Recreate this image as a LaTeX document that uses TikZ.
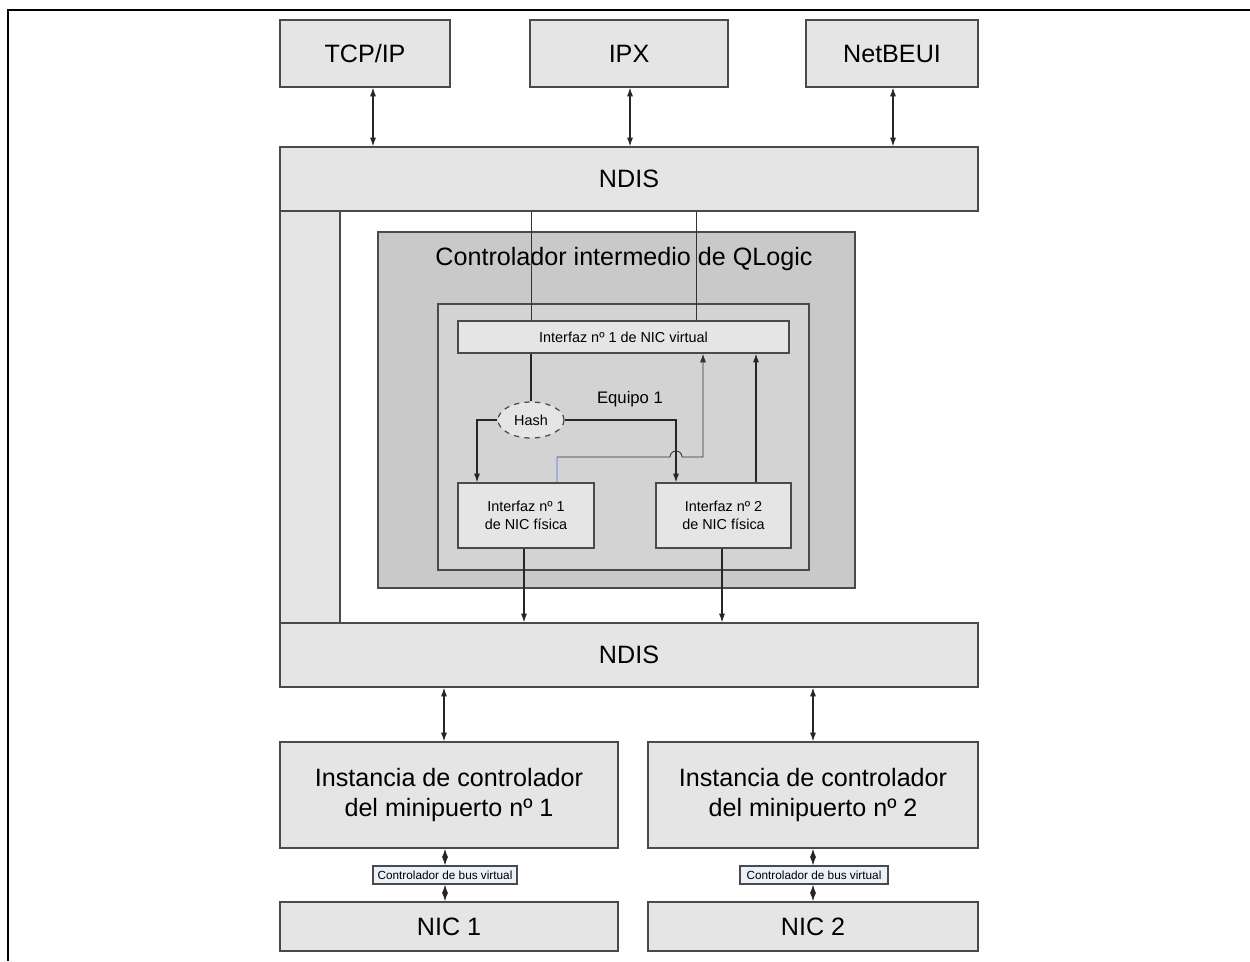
\documentclass[tikz,border=0pt]{standalone}
\usepackage{fontspec}
\setmainfont{Liberation Sans}
\usetikzlibrary{arrows.meta,shapes.geometric}
\definecolor{boxfill}{HTML}{E5E5E5}
\definecolor{boxline}{HTML}{4A4A4A}
\definecolor{ctrlfill}{HTML}{C9C9C9}
\definecolor{teamfill}{HTML}{D3D3D3}
\definecolor{busfill}{HTML}{EBF1FA}
\definecolor{hopblue}{HTML}{9DB3D6}
\tikzset{
  gbox/.style={draw=boxline, fill=boxfill, line width=0.8pt, rectangle, inner sep=0pt, align=center},
  bigtxt/.style={font=\fontsize{14.3}{17}\selectfont},
  smalltxt/.style={font=\fontsize{8.2}{10.5}\selectfont},
  bustxt/.style={font=\fontsize{6.7}{8}\selectfont},
  conn/.style={draw=black!85, line width=0.6pt},
  thinconn/.style={draw=black!80, line width=0.5pt},
  tip/.style={-{Latex[length=5pt,width=3.5pt]}},
  dtip/.style={{Latex[length=5pt,width=3.5pt]}-{Latex[length=5pt,width=3.5pt]}},
}
\begin{document}
\begin{tikzpicture}[x=0.02cm, y=-0.02cm]
\useasboundingbox (0,0) rectangle (1250,961);
% outer frame
\draw[line width=1.7pt] (1250,10) -- (8,10) -- (8,961);

% top protocols
\node[gbox, bigtxt, minimum width=3.4cm, minimum height=1.34cm] (tcp) at (365,53.5) {TCP/IP};
\node[gbox, bigtxt, minimum width=3.96cm, minimum height=1.34cm] (ipx) at (629,53.5) {IPX};
\node[gbox, bigtxt, minimum width=3.44cm, minimum height=1.34cm] (netb) at (892,53.5) {NetBEUI};

% left strip
\node[gbox, minimum width=1.2cm, minimum height=8.24cm] (strip) at (310,417) {};

% NDIS layers
\node[gbox, bigtxt, minimum width=13.96cm, minimum height=1.28cm] (ndisA) at (629,179) {NDIS};
\node[gbox, bigtxt, minimum width=13.96cm, minimum height=1.28cm] (ndisB) at (629,655) {NDIS};

% intermediate driver
\node[draw=boxline, fill=ctrlfill, line width=0.8pt, inner sep=0pt, minimum width=9.54cm, minimum height=7.12cm] (ctrl) at (616.5,410) {};
\node[bigtxt, inner sep=0pt] (ctrltitle) at (624,259) {Controlador intermedio de QLogic};
\node[draw=boxline, fill=teamfill, line width=0.8pt, inner sep=0pt, minimum width=7.42cm, minimum height=5.32cm] (team) at (623.5,437) {};

\node[gbox, smalltxt, minimum width=6.62cm, minimum height=0.64cm] (vnic) at (623.5,337) {Interfaz nº 1 de NIC virtual};
\node[font=\fontsize{9.5}{11}\selectfont, inner sep=0pt] (equipo) at (630,399) {Equipo 1};
\node[ellipse, draw=boxline, dashed, fill=boxfill, line width=0.7pt, smalltxt, inner sep=0pt, minimum width=1.32cm, minimum height=0.72cm] (hash) at (531,420) {Hash};

\node[gbox, smalltxt, minimum width=2.72cm, minimum height=1.3cm] (phys1) at (526,515.5) {Interfaz nº 1\\de NIC física};
\node[gbox, smalltxt, minimum width=2.7cm, minimum height=1.3cm] (phys2) at (723.5,515.5) {Interfaz nº 2\\de NIC física};

% miniport instances
\node[gbox, bigtxt, minimum width=6.76cm, minimum height=2.12cm] (inst1) at (449,795) {Instancia de controlador\\del minipuerto nº 1};
\node[gbox, bigtxt, minimum width=6.6cm, minimum height=2.12cm] (inst2) at (813,795) {Instancia de controlador\\del minipuerto nº 2};

\node[draw=boxline, fill=busfill, line width=0.6pt, inner sep=0pt, bustxt, minimum width=2.88cm, minimum height=0.36cm] (bus1) at (445,875) {Controlador de bus virtual};
\node[draw=boxline, fill=busfill, line width=0.6pt, inner sep=0pt, bustxt, minimum width=2.96cm, minimum height=0.36cm] (bus2) at (814,875) {Controlador de bus virtual};

\node[gbox, bigtxt, minimum width=6.76cm, minimum height=0.98cm] (nic1) at (449,926.5) {NIC 1};
\node[gbox, bigtxt, minimum width=6.6cm, minimum height=0.98cm] (nic2) at (813,926.5) {NIC 2};

% protocol <-> NDIS
\draw[conn, dtip] (tcp.south -| 373,0) -- (ndisA.north -| 373,0);
\draw[conn, dtip] (ipx.south -| 630,0) -- (ndisA.north -| 630,0);
\draw[conn, dtip] (netb.south -| 893,0) -- (ndisA.north -| 893,0);

% NDIS -> virtual NIC
\draw[thinconn] (ndisA.south -| 531,0) -- (vnic.north -| 531,0);
\draw[thinconn] (ndisA.south -| 696,0) -- (vnic.north -| 696,0);

% virtual NIC -> hash
\draw[conn] (vnic.south -| hash.north) -- (hash.north);

% hash -> physical
\draw[conn, tip] (hash.west) -| (phys1.north -| 477,0);
\draw[conn, tip] (hash.east) -| (phys2.north -| 676,0);

% physical -> virtual NIC
\coordinate (p1up) at (557,457);
\draw[hopblue, line width=0.6pt] (phys1.north -| p1up) -- (p1up);
\draw[thinconn, tip] (p1up) -- (670,457) arc[start angle=180, end angle=0, radius=0.12cm] -- (703,457) -- (vnic.south -| 703,0);
\draw[conn, tip] (phys2.north -| 756,0) -- (vnic.south -| 756,0);

% physical -> NDIS
\draw[conn, tip] (phys1.south -| 524,0) -- (ndisB.north -| 524,0);
\draw[conn, tip] (phys2.south -| 722,0) -- (ndisB.north -| 722,0);

% NDIS <-> instances
\draw[conn, dtip] (ndisB.south -| 444,0) -- (inst1.north -| 444,0);
\draw[conn, dtip] (ndisB.south -| 813,0) -- (inst2.north -| 813,0);

% instances <-> bus <-> NIC
\draw[conn, dtip] (inst1.south -| 445,0) -- (bus1.north -| 445,0);
\draw[conn, dtip] (bus1.south -| 445,0) -- (nic1.north -| 445,0);
\draw[conn, dtip] (inst2.south -| 813,0) -- (bus2.north -| 813,0);
\draw[conn, dtip] (bus2.south -| 813,0) -- (nic2.north -| 813,0);
\end{tikzpicture}
\end{document}
